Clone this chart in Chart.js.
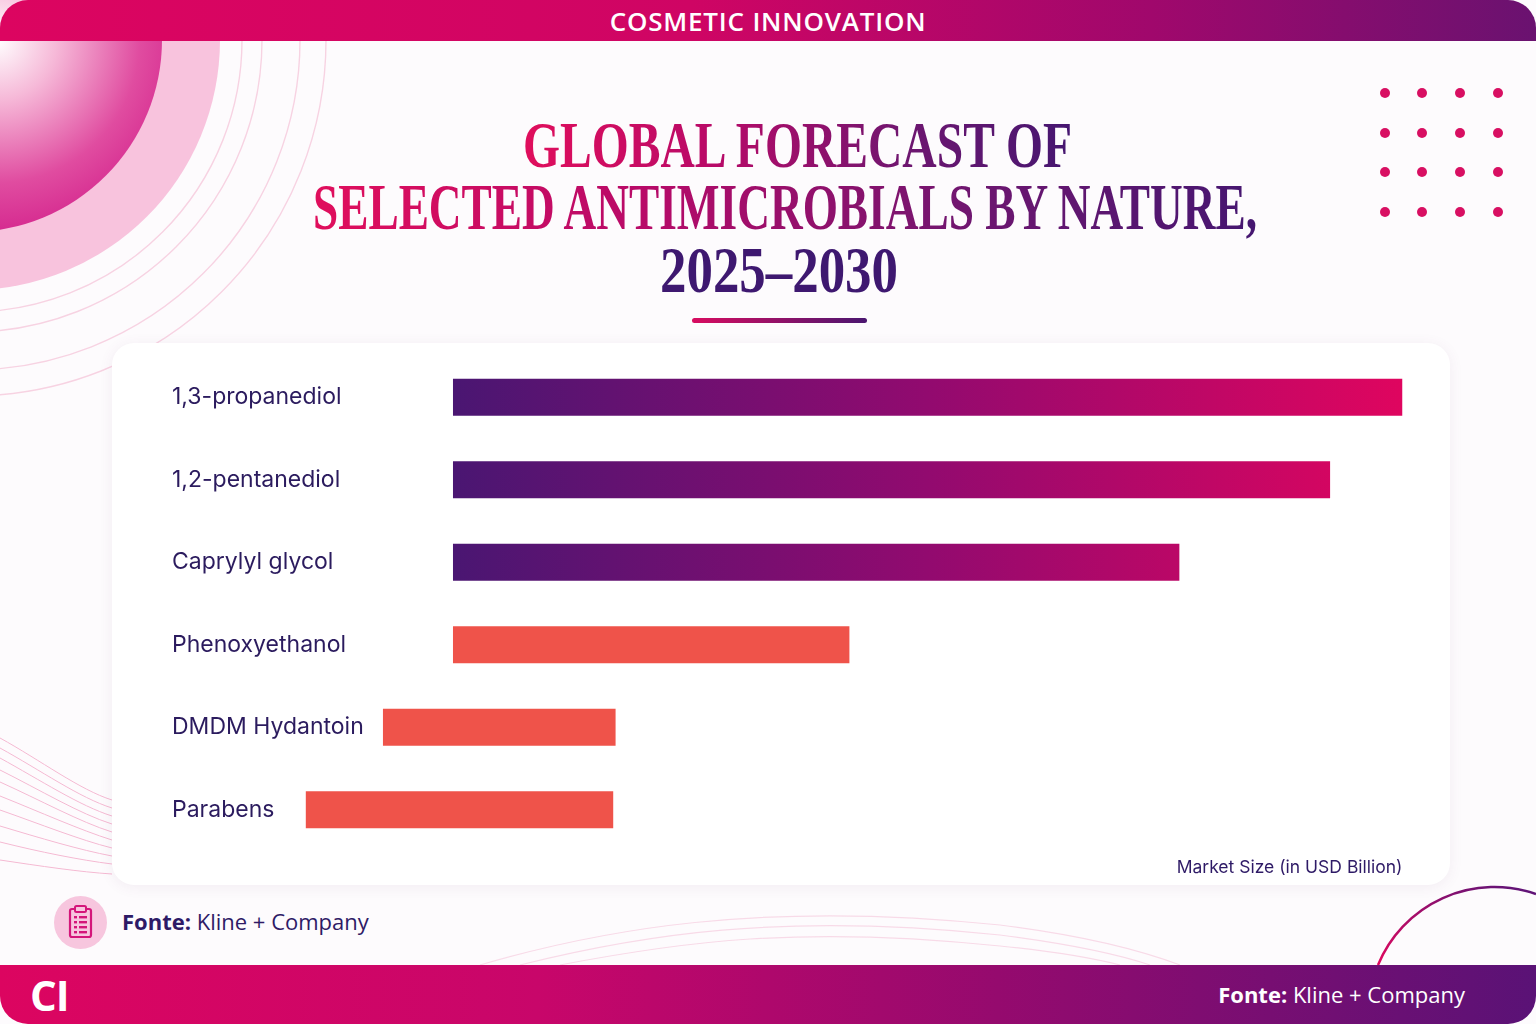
<!DOCTYPE html>
<html>
<head>
<meta charset="utf-8">
<script src="https://cdn.jsdelivr.net/npm/chart.js@4/dist/chart.umd.min.js"></script>
<style>
  html, body { margin: 0; padding: 0; }
  body { width: 1536px; height: 1024px; position: relative; overflow: hidden; background: #fdfbfd; font-family: "Inter", "Open Sans", sans-serif; }
  .abs { position: absolute; }
  #topbar { left: 0; top: 0; width: 1536px; height: 41px; border-radius: 28px 28px 0 0;
    background: linear-gradient(90deg, #dc0560 0%, #cf0564 45%, #a0086c 75%, #6a1270 100%);
    color: #fff; font: 600 26px "Open Sans", sans-serif; text-align: center; line-height: 42px; letter-spacing: 0.8px; z-index: 3; }
  #botbar { left: 0; top: 965px; width: 1536px; height: 59px; border-radius: 0 0 28px 28px;
    background: linear-gradient(90deg, #dc0560 0%, #c8066a 35%, #950a6e 65%, #5a1276 100%); z-index: 3; }
  #ci { left: 30px; top: 966px; color: #fff; font: 700 42px "Open Sans", sans-serif; line-height: 58px; letter-spacing: -1px; z-index: 4; }
  #fonte2 { right: 71px; top: 966px; color: #fff; font: 400 22px "Open Sans", sans-serif; line-height: 56px; z-index: 4; }
  .title { font-family: "Liberation Serif", serif; font-weight: 700; font-size: 66px; line-height: 66px; white-space: nowrap; }
  .title span { display: inline-block; transform-origin: 0 50%; }
  .grad span { background: linear-gradient(90deg, #e00e5c 0%, #b80a68 35%, #6e1670 70%, #451670 100%);
    -webkit-background-clip: text; background-clip: text; color: transparent; }
  #t3 span { color: #3e1870; }
  #uline { left: 692px; top: 318px; width: 175px; height: 5px; border-radius: 3px; background: linear-gradient(90deg, #d80c60, #4a1670); }
  #card { left: 112px; top: 343px; width: 1338px; height: 542px; background: #fff; border-radius: 22px;
    box-shadow: 0 2px 14px rgba(120, 60, 110, 0.08); z-index: 1; }
  #chart { left: 112px; top: 343px; z-index: 2; }
  #fonte1 { left: 122px; top: 906px; color: #2e1a66; font: 400 22px "Open Sans", sans-serif; z-index: 2; }
  #fonte1 b, #fonte2 b { font-weight: 700; }
</style>
</head>
<body>
<svg class="abs" style="left:0;top:0" width="1536" height="1024">
  <defs>
    <radialGradient id="sphere" cx="0.57" cy="0.5" r="0.62" fx="0.57" fy="0.5">
      <stop offset="0" stop-color="#ffffff"/>
      <stop offset="0.25" stop-color="#f6b9d8"/>
      <stop offset="0.6" stop-color="#e04ca0"/>
      <stop offset="1" stop-color="#cc0a80"/>
    </radialGradient>
    <linearGradient id="arcg" x1="0" y1="1" x2="1" y2="0">
      <stop offset="0" stop-color="#e0085e"/>
      <stop offset="1" stop-color="#5a1478"/>
    </linearGradient>
  </defs>
  <!-- top-left rings -->
  <g fill="none" stroke="#f7cfe0" stroke-width="1.4" opacity="0.9">
    <circle cx="-30" cy="40" r="272"/>
    <circle cx="-30" cy="40" r="292"/>
    <circle cx="-30" cy="40" r="330"/>
    <circle cx="-30" cy="40" r="356"/>
  </g>
  <circle cx="-30" cy="40" r="250" fill="#f8c3dd"/>
  <circle cx="-30" cy="40" r="192" fill="url(#sphere)"/>
  <!-- dots -->
  <g fill="#d80f62">
    <circle cx="1385" cy="93" r="5"/><circle cx="1422" cy="93" r="5"/><circle cx="1460" cy="93" r="5"/><circle cx="1498" cy="93" r="5"/>
    <circle cx="1385" cy="133" r="5"/><circle cx="1422" cy="133" r="5"/><circle cx="1460" cy="133" r="5"/><circle cx="1498" cy="133" r="5"/>
    <circle cx="1385" cy="172" r="5"/><circle cx="1422" cy="172" r="5"/><circle cx="1460" cy="172" r="5"/><circle cx="1498" cy="172" r="5"/>
    <circle cx="1385" cy="212" r="5"/><circle cx="1422" cy="212" r="5"/><circle cx="1460" cy="212" r="5"/><circle cx="1498" cy="212" r="5"/>
  </g>
  <!-- left waves -->
  <g fill="none" stroke="#f3a9c8" stroke-width="1" opacity="0.8">
    <path d="M0 738 C40 760 80 790 112 800"/>
    <path d="M0 748 C40 770 80 798 112 808"/>
    <path d="M0 758 C40 780 80 806 112 816"/>
    <path d="M0 770 C40 790 80 814 112 824"/>
    <path d="M0 782 C40 800 80 822 112 832"/>
    <path d="M0 796 C40 812 80 830 112 840"/>
    <path d="M0 810 C40 824 80 840 112 848"/>
    <path d="M0 826 C40 838 80 850 112 856"/>
    <path d="M0 842 C40 852 80 860 112 864"/>
    <path d="M0 860 C40 866 80 872 112 874"/>
  </g>
  <!-- bottom faint waves -->
  <g fill="none" stroke="#f7d3e3" stroke-width="1.2" opacity="0.8">
    <path d="M480 965 C600 930 760 900 1000 925 C1080 935 1140 950 1180 965"/>
    <path d="M520 965 C640 935 780 912 1000 935 C1070 944 1120 955 1150 965"/>
    <path d="M560 965 C680 942 800 925 1000 946 C1060 952 1100 960 1120 965"/>
  </g>
  <!-- bottom-right arc -->
  <path d="M1378 965 A 126 126 0 0 1 1536 894" fill="none" stroke="url(#arcg)" stroke-width="2.5"/>
</svg>

<div id="topbar" class="abs">COSMETIC INNOVATION</div>

<div id="t1" class="abs title grad" style="top:112px"><span>GLOBAL FORECAST OF</span></div>
<div id="t2" class="abs title grad" style="top:174px"><span>SELECTED ANTIMICROBIALS BY NATURE,</span></div>
<div id="t3" class="abs title" style="top:237px"><span>2025–2030</span></div>
<div id="uline" class="abs"></div>

<div id="card" class="abs"></div>
<canvas id="chart" class="abs" width="1338" height="542"></canvas>

<svg class="abs" style="left:54px;top:896px;z-index:2" width="53" height="53">
  <circle cx="26.5" cy="26.5" r="26.5" fill="#f7c6de"/>
  <rect x="16" y="13" width="21" height="28" rx="2" fill="none" stroke="#d4167a" stroke-width="2.2"/>
  <rect x="21" y="10" width="11" height="6" rx="1.5" fill="#f7c6de" stroke="#d4167a" stroke-width="2"/>
  <g fill="#d4167a">
    <rect x="20" y="20" width="3" height="2.4"/><rect x="25" y="20" width="8" height="2.4"/>
    <rect x="20" y="25" width="3" height="2.4"/><rect x="25" y="25" width="8" height="2.4"/>
    <rect x="20" y="30" width="3" height="2.4"/><rect x="25" y="30" width="8" height="2.4"/>
    <rect x="20" y="35" width="3" height="2.4"/><rect x="25" y="35" width="8" height="2.4"/>
  </g>
</svg>
<div id="fonte1" class="abs"><b>Fonte:</b> Kline + Company</div>

<div id="botbar" class="abs"></div>
<div id="ci" class="abs">CI</div>
<div id="fonte2" class="abs"><b>Fonte:</b> Kline + Company</div>

<script>
// condensed serif title: fit each line to its width in the reference
[["t1", 523, 549], ["t2", 313, 944], ["t3", 660, 238]].forEach(([id, left, w]) => {
  const el = document.getElementById(id);
  const s = el.querySelector("span");
  el.style.left = left + "px";
  s.style.transform = "scaleX(" + (w / s.getBoundingClientRect().width) + ")";
});

const labels = ["1,3-propanediol", "1,2-pentanediol", "Caprylyl glycol", "Phenoxyethanol", "DMDM Hydantoin", "Parabens"];
const startValues = [2.0, 2.0, 2.0, 2.0, 1.41, 0.76];
const endValues = [10.0, 9.39, 8.12, 5.34, 3.37, 3.35];
const isNatural = [true, true, true, false, false, false];

const ranges = labels.map((_, i) => [startValues[i], endValues[i]]);

function barColor(ctx) {
  const i = ctx.dataIndex;
  if (!isNatural[i]) return "#ef534a";
  const chart = ctx.chart;
  const x = chart.scales && chart.scales.x;
  if (!chart.chartArea || !x) return "#7a0f70";
  const g = chart.ctx.createLinearGradient(x.getPixelForValue(2), 0, x.getPixelForValue(10), 0);
  g.addColorStop(0, "#4a1672");
  g.addColorStop(0.5, "#920a6f");
  g.addColorStop(1, "#df055f");
  return g;
}

new Chart(document.getElementById("chart").getContext("2d"), {
  type: "bar",
  data: {
    labels: labels,
    datasets: [{
      label: "Market size",
      data: ranges,
      backgroundColor: barColor,
      borderWidth: 0,
      borderSkipped: false,
      categoryPercentage: 1,
      barPercentage: 0.45
    }]
  },
  options: {
    indexAxis: "y",
    responsive: false,
    animation: false,
    devicePixelRatio: 1,
    layout: { padding: { left: 60, right: 47.5, top: 13, bottom: 3 } },
    plugins: { legend: { display: false }, tooltip: { enabled: false } },
    scales: {
      x: {
        min: 0,
        max: 10,
        grid: { display: false, drawTicks: false },
        border: { display: false },
        ticks: { display: false },
        title: {
          display: true,
          text: "Market Size (in USD Billion)",
          align: "end",
          color: "#2e1a66",
          font: { family: "Inter", size: 17.5 },
          padding: { top: 6, bottom: 4 }
        }
      },
      y: {
        grid: { display: false, drawTicks: false },
        border: { display: false },
        ticks: {
          mirror: true,
          padding: -43.6,
          color: "#2b1b5e",
          font: { family: "Inter", size: 23 }
        },
        afterFit: (axis) => { axis.width = 43.6; }
      }
    }
  }
});
</script>
</body>
</html>
